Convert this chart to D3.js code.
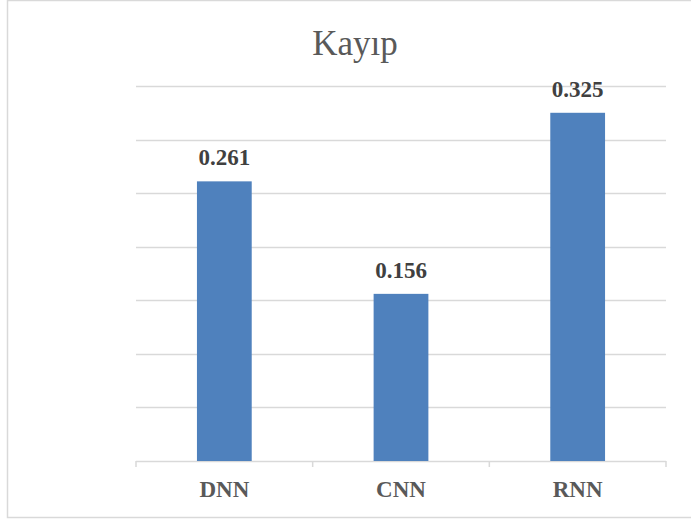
<!DOCTYPE html>
<html>
<head>
<meta charset="utf-8">
<script src="https://cdn.jsdelivr.net/npm/d3@7"></script>
<style>
  body { margin: 0; background: #fff; }
</style>
</head>
<body>
<div class="chart"></div>
<script>
const categories = ["DNN", "CNN", "RNN"];
const values = [0.261, 0.156, 0.325];
const gridTicks = [0.05, 0.1, 0.15, 0.2, 0.25, 0.3, 0.35];

const serif = "'Liberation Serif', Tinos, 'Times New Roman', Times, 'DejaVu Serif', serif";

const W = 691, H = 520;
const margin = ({ left: 136, right: 25, top: 86, bottom: 59 });
const width = W - margin.left - margin.right,
    height = H - margin.top - margin.bottom;

const svg = d3.select(".chart").append("svg")
    .attr("width", W)
    .attr("height", H)
    .attr("font-family", serif)

// chart frame
svg.append("rect")
    .attr("x", 7.5)
    .attr("y", 0.5)
    .attr("width", W)
    .attr("height", 517)
    .attr("fill", "white")
    .attr("stroke", "#d9d9d9")
    .attr("stroke-width", 1.5)

const g = svg.append("g")
    .attr("transform", "translate(" + margin.left + "," + margin.top + ")");

const xScale = d3.scaleBand()
    .domain(categories)
    .range([0, width])
    .paddingInner(0.69)
    .paddingOuter(0.345)

const yScale = d3.scaleLinear()
    .domain([0, 0.35])
    .range([height, 0])

// gridlines
g.append("g")
    .selectAll("line")
    .data(gridTicks)
    .enter()
    .append("line")
    .attr("x1", 0)
    .attr("x2", width)
    .attr("y1", d => Math.round(yScale(d)) + 0.5)
    .attr("y2", d => Math.round(yScale(d)) + 0.5)
    .attr("stroke", "#d9d9d9")
    .attr("stroke-width", 1.5)

// category axis, ticks sit between the groups
const step = xScale.step();
const xAxis = g.append("g")
    .attr("transform", `translate(0, ${height})`)

xAxis.append("line")
    .attr("x1", 0)
    .attr("x2", width)
    .attr("y1", 0.5)
    .attr("y2", 0.5)
    .attr("stroke", "#d9d9d9")
    .attr("stroke-width", 1.5)

xAxis.selectAll(".tick")
    .data(d3.range(categories.length + 1))
    .enter()
    .append("line")
    .attr("x1", i => i * step)
    .attr("x2", i => i * step)
    .attr("y1", 0)
    .attr("y2", 6)
    .attr("stroke", "#d9d9d9")
    .attr("stroke-width", 1.5)

xAxis.selectAll("text")
    .data(categories)
    .enter()
    .append("text")
    .attr("x", d => xScale(d) + xScale.bandwidth() / 2)
    .attr("y", 36)
    .attr("text-anchor", "middle")
    .attr("font-size", 23)
    .attr("font-weight", "bold")
    .attr("fill", "#595959")
    .text(d => d)

// bars
g.selectAll("rect.bar")
    .data(values)
    .enter()
    .append("rect")
    .attr("class", "bar")
    .attr("x", (d, i) => xScale(categories[i]))
    .attr("y", d => yScale(d))
    .attr("width", xScale.bandwidth())
    .attr("height", d => height - yScale(d))
    .attr("fill", "#4f81bd")

// value labels
g.selectAll("text.val")
    .data(values)
    .enter()
    .append("text")
    .attr("class", "val")
    .attr("x", (d, i) => xScale(categories[i]) + xScale.bandwidth() / 2)
    .attr("y", d => yScale(d) - 16)
    .attr("text-anchor", "middle")
    .attr("font-size", 23)
    .attr("font-weight", "bold")
    .attr("fill", "#404040")
    .text(d => d3.format(".3f")(d))

// title
svg.append("text")
    .attr("x", 355)
    .attr("y", 55)
    .attr("text-anchor", "middle")
    .attr("font-size", 35)
    .attr("fill", "#595959")
    .text("Kayıp")
</script>
</body>
</html>
